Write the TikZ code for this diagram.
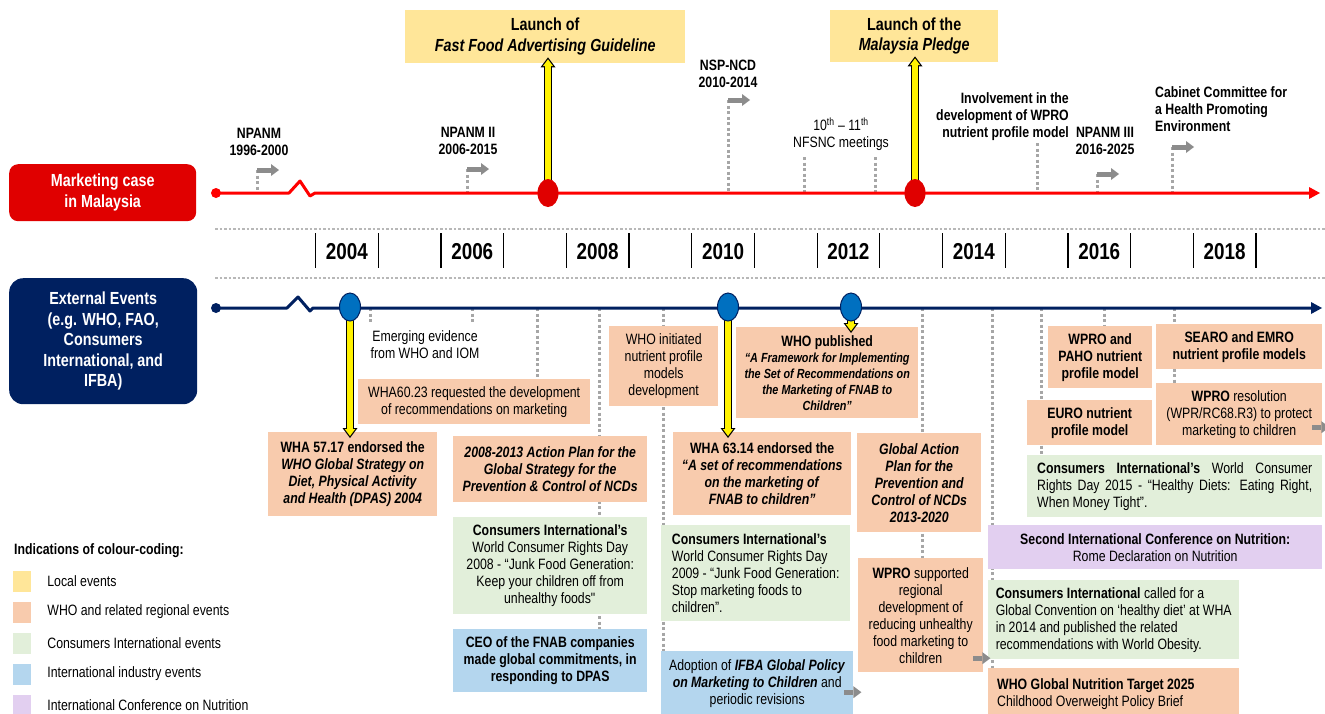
\documentclass[tikz,border=0pt]{standalone}
\usepackage{fontspec}
\setmainfont{Liberation Sans}[FakeStretch=0.82]
\usepackage{xcolor}
\usetikzlibrary{arrows.meta, calc, positioning, shapes.geometric, backgrounds}

\definecolor{mkred}{HTML}{E00000}
\definecolor{navy}{HTML}{002060}
\definecolor{evblue}{HTML}{0070C0}
\definecolor{locC}{HTML}{FFE699}
\definecolor{whoC}{HTML}{F8CBAD}
\definecolor{ciC}{HTML}{E2EFDA}
\definecolor{indC}{HTML}{B4D6EE}
\definecolor{icnC}{HTML}{E2CFF0}
\definecolor{stubgray}{HTML}{A6A6A6}
\definecolor{arrgray}{HTML}{8C8C8C}

\newcommand\bodyfont{\fontsize{15}{17}\selectfont}
\newcommand\headfont{\fontsize{17.5}{20.5}\selectfont\bfseries}
\newcommand\yearfont{\fontsize{23}{26}\selectfont\bfseries}
\newcommand\yarrow[2]{%
  \draw[yout] #1 -- #2;
  \draw[yin] #1 -- #2;}

\begin{document}
\begin{tikzpicture}[x=1pt, y=-1pt,
  box/.style 2 args={anchor=north west, minimum width=#1, minimum height=#2,
    inner sep=3pt, align=center, font=\bodyfont},
  bold/.style={font=\bodyfont\bfseries},
  loc/.style={fill=locC}, who/.style={fill=whoC}, ci/.style={fill=ciC},
  ind/.style={fill=indC}, icn/.style={fill=icnC},
  lbl/.style={align=center, inner sep=0pt, font=\bodyfont\bfseries},
  stub/.style={stubgray, line width=3pt, dash pattern=on 3pt off 2.5pt},
  axisdots/.style={stubgray!80, line width=2.5pt, dash pattern=on 2.5pt off 2pt},
  tick/.style={black, line width=1.2pt},
  year/.style={font=\yearfont, inner sep=0pt},
  grayarr/.style={arrgray, line width=5pt, -{Triangle[length=8pt,width=12pt,line width=0pt]}},
  yout/.style={black, line width=8pt, -{Triangle[length=10pt,width=15pt,line width=0pt]}},
  yin/.style={yellow, line width=5.5pt, shorten >=2pt, -{Triangle[length=6.8pt,width=10.2pt,line width=0pt]}},
  redev/.style={ellipse, fill=mkred, minimum width=21pt, minimum height=28pt, inner sep=0pt},
  blueev/.style={ellipse, fill=evblue, draw=navy, line width=1pt, minimum width=21pt, minimum height=28pt, inner sep=0pt},
  swatch/.style={minimum width=18pt, minimum height=21pt, inner sep=0pt},
  legtext/.style={anchor=west, inner sep=0pt, font=\bodyfont}]
\useasboundingbox (0,0) rectangle (1325,713);

% Row headers
\node[box={187}{57}, fill=mkred, rounded corners=9pt, text=white, font=\headfont] (mk) at (9,164) {Marketing case\\in Malaysia};
\node[box={188}{126}, fill=navy, rounded corners=14pt, text=white, font=\headfont] (ext) at (9,278) {External Events\\(e.g. WHO, FAO,\\Consumers\\International, and\\IFBA)};

% Local events
\node[box={280}{53}, loc, font=\headfont] (ffag) at (405,10) {Launch of\\\textit{Fast Food Advertising Guideline}};
\node[box={168}{52}, loc, font=\headfont] (pledge) at (830,10) {Launch of the\\\textit{Malaysia Pledge}};

% Labels above the Malaysian line
\node[lbl] (npanm1) at (259,142) {NPANM\\1996-2000};
\node[lbl] (npanm2) at (468,141) {NPANM II\\2006-2015};
\node[lbl] (nspncd) at (728,74) {NSP-NCD\\2010-2014};
\node[lbl, font=\bodyfont] (nfsnc) at (841,134) {10\textsuperscript{th} -- 11\textsuperscript{th}\\NFSNC meetings};
\node[lbl, align=right, anchor=east] (wpronp) at (1069,117) {Involvement in the\\development of WPRO\\nutrient profile model};
\node[lbl] (npanm3) at (1105,141) {NPANM III\\2016-2025};
\node[lbl, align=left, anchor=west] (cabinet) at (1155,109) {Cabinet Committee for\\a Health Promoting\\Environment};

% Year axis
\draw[axisdots] (215,229) -- (1325,229);
\draw[axisdots] (215,278) -- (1325,278);
\foreach \k in {0,...,15}
  \draw[tick] ({315.5+62.7*\k},233) -- ++(0,35);
\foreach \yr in {2004,2006,...,2018}
  \node[year] (y\yr) at ({346.85+62.7*(\yr-2004)},252) {\yr};

% External events
\node[lbl, font=\bodyfont] (emerg) at (425,345) {Emerging evidence\\from WHO and IOM};
\node[box={232}{45}, who] (wha6023) at (358,379) {WHA60.23 requested the development\\of recommendations on marketing};
\node[box={169}{84}, who, bold] (wha5717) at (268,432) {WHA 57.17 endorsed the\\\textit{WHO Global Strategy on}\\\textit{Diet, Physical Activity}\\\textit{and Health (DPAS) 2004}};
\node[box={194}{66}, who, font=\bodyfont\bfseries\itshape] (ap0813) at (453,436) {2008-2013 Action Plan for the\\Global Strategy for the\\Prevention \& Control of NCDs};
\node[box={194}{97}, ci] (ci08) at (453,517) {\textbf{Consumers International's}\\World Consumer Rights Day\\2008 - “Junk Food Generation:\\Keep your children off from\\unhealthy foods\textquotedbl};
\node[box={194}{63}, ind, bold] (ceo) at (453,629) {CEO of the FNAB companies\\made global commitments, in\\responding to DPAS};
\node[box={109}{80}, who] (whoinit) at (609,326) {WHO initiated\\nutrient profile\\models\\development};
\node[box={182}{91}, who, font=\fontsize{13.2}{16}\selectfont\bfseries] (whopub) at (736,327) {{\fontsize{15}{16}\selectfont WHO published}\\\textit{“A Framework for Implementing}\\\textit{the Set of Recommendations on}\\\textit{the Marketing of FNAB to}\\\textit{Children”}};
\node[box={178}{83}, who, bold] (wha6314) at (673,432) {WHA 63.14 endorsed the\\\textit{“A set of recommendations}\\\textit{on the marketing of}\\\textit{FNAB to children”}};
\node[box={189}{96}, ci, align=left] (ci09) at (661,525) {\textbf{Consumers International's}\\World Consumer Rights Day\\2009 - “Junk Food Generation:\\Stop marketing foods to\\children”.};
\node[box={192}{64}, ind] (ifba) at (661,651) {Adoption of \textbf{\textit{IFBA Global Policy}}\\\textbf{\textit{on Marketing to Children}} and\\periodic revisions};
\node[box={124}{99}, who, font=\bodyfont\bfseries\itshape] (gap) at (857,433) {Global Action\\Plan for the\\Prevention and\\Control of NCDs\\2013-2020};
\node[box={125}{114}, who] (wprosup) at (858,558) {\textbf{WPRO} supported\\regional\\development of\\reducing unhealthy\\food marketing to\\children};
\node[box={104}{62}, who, bold] (wpropaho) at (1048,326) {WPRO and\\PAHO nutrient\\profile model};
\node[box={166}{45}, who, bold] (searo) at (1156,324) {SEARO and EMRO\\nutrient profile models};
\node[box={125}{45}, who, bold] (euro) at (1027,400) {EURO nutrient\\profile model};
\node[box={166}{62}, who] (wprores) at (1156,383) {\textbf{WPRO} resolution\\(WPR/RC68.R3) to protect\\marketing to children};
\node[box={295}{62}, ci, text width=275pt, align=justify] (ci15) at (1027,455) {\textbf{Consumers International's} World Consumer\linebreak Rights Day 2015 - “Healthy Diets: Eating Right,\linebreak When Money Tight”.};
\node[box={334}{44}, icn] (icn2) at (988,525) {\textbf{Second International Conference on Nutrition:}\\Rome Declaration on Nutrition};
\node[box={251}{79}, ci, align=left] (cicall) at (988,580) {\textbf{Consumers International} called for a\\Global Convention on ‘healthy diet’ at WHA\\in 2014 and published the related\\recommendations with World Obesity.};
\node[box={251}{52}, who, text width=233pt, align=flush left] (gnt) at (988,668) {\textbf{WHO Global Nutrition Target 2025}\\Childhood Overweight Policy Brief};

% Legend
\node[anchor=west, inner sep=0pt, font=\bodyfont\bfseries] (legend) at (14,551) {Indications of colour-coding:};
\foreach \c/\t [count=\i] in {locC/Local events, whoC/WHO and related regional events, ciC/Consumers International events, indC/International industry events, icnC/International Conference on Nutrition} {
  \node[swatch, fill=\c] (sw\i) at (22,{550+31*\i}) {};
  \node[legtext, right=16pt of sw\i] (lg\i) {\t};
}

% Timeline points
\coordinate (rs) at (216,193); \coordinate (re) at (1320,193);
\coordinate (ns) at (216,308); \coordinate (ne) at (1322,308);
\coordinate (p1) at (257,170); \coordinate (p2) at (467,169);
\coordinate (p3) at (728,100); \coordinate (p4) at (1097,174);
\coordinate (p5) at (1172,147);
\coordinate (q1) at (804,157); \coordinate (q2) at (875,157);
\coordinate (q3) at (1037,143);
\coordinate (e1) at (370,323); \coordinate (e2) at (472,323);

% Dotted stubs
\begin{scope}[on background layer]
\foreach \p in {p1,p2,p3,p4,p5,q1,q2,q3}
  \draw[stub] (\p) -- (\p |- rs);
\foreach \p in {e1,e2}
  \draw[stub] (\p |- ns) -- (\p);
\foreach \x/\n in {537/wha6023, 599/ceo, 663/ifba, 922/wprosup, 992/gnt, 1041/ci15, 1104/wpropaho, 1174/wprores}
  \draw[stub] (\x,0 |- ns) -- (\x,0 |- \n.north);
\end{scope}

% Gray arrows
\foreach \p in {p1,p2,p3,p4,p5}
  \draw[grayarr] (\p) -- ++(22,0);
\draw[grayarr] ($(ifba.east)+(-9,9)$) -- ++(17,0);
\draw[grayarr] ($(wprosup.east)+(-10,43)$) -- ++(17,0);
\draw[grayarr] ($(wprores.east)+(-10,13)$) -- ++(17,0);

% Timelines
\draw[red, line width=3pt, line join=round, -{Triangle[length=11pt,width=12pt,line width=0pt]}]
  (rs) -- (289,193) -- (300,181) -- (310,196) -- (315,193) -- (re);
\fill[red] (rs) circle (5pt);
\draw[navy, line width=3pt, line join=round, -{Triangle[length=11pt,width=12pt,line width=0pt]}]
  (ns) -- (287,308) -- (298,297) -- (310,311) -- (313,308) -- (ne);
\fill[navy] (ns) circle (5pt);

% Yellow arrows and event dots
\coordinate (ev1) at (548,193); \coordinate (ev2) at (915,193);
\coordinate (ev3) at (350,307); \coordinate (ev4) at (728,307);
\coordinate (ev5) at (851,307);
\yarrow{(ev1)}{($(ev1 |- ffag.south)+(0,-6)$)}
\yarrow{(ev2)}{($(ev2 |- pledge.south)+(0,-6)$)}
\yarrow{(ev3)}{($(ev3 |- wha5717.north)+(0,6)$)}
\yarrow{(ev4)}{($(ev4 |- wha6314.north)+(0,6)$)}
\yarrow{(ev5)}{($(ev5 |- whopub.north)+(0,6)$)}
\foreach \e in {ev1,ev2}
  \node[redev] (c-\e) at (\e) {};
\foreach \e in {ev3,ev4,ev5}
  \node[blueev] (c-\e) at (\e) {};
\end{tikzpicture}
\end{document}
